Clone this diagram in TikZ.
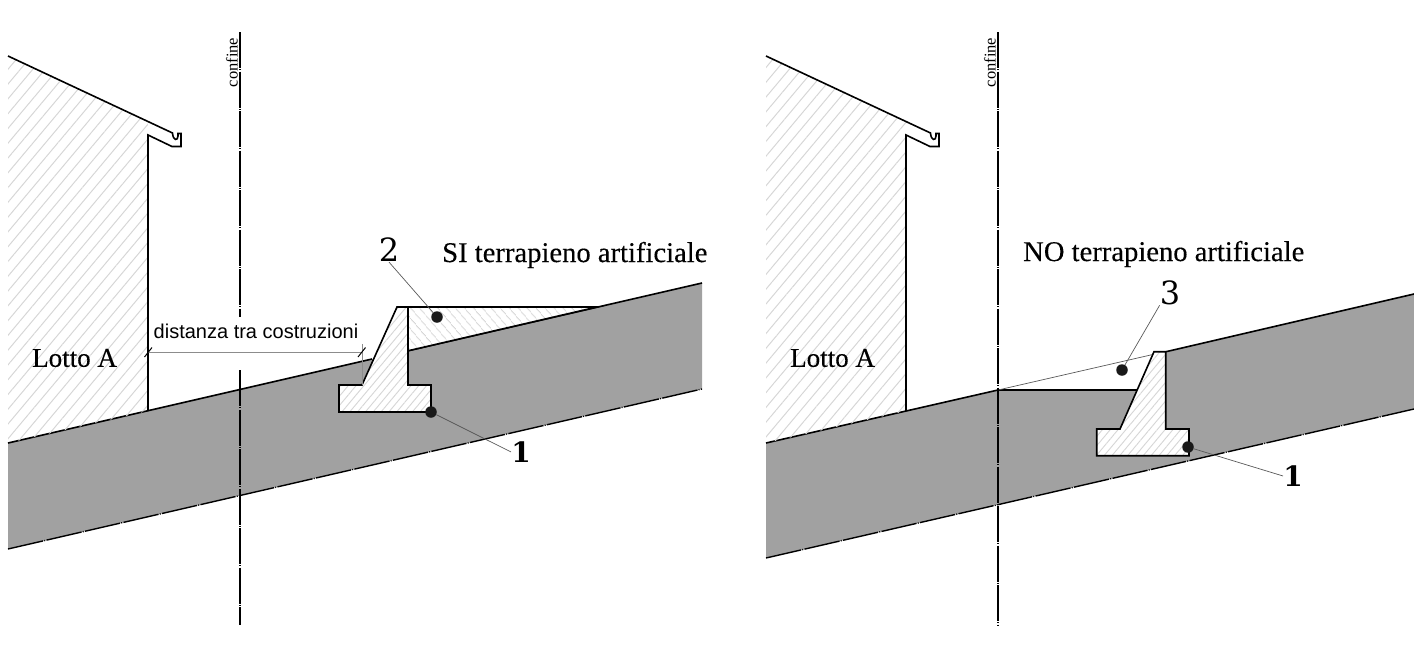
\documentclass[tikz,border=0pt]{standalone}
\usepackage{fontspec}
\setmainfont{Liberation Serif}
\setsansfont{Liberation Sans}
\newfontfamily\numfont{DejaVu Serif}
\newfontfamily\capfont[FakeBold=0.25]{Liberation Serif}
\usetikzlibrary{positioning,patterns.meta}
\definecolor{terreno}{gray}{0.63}
\definecolor{retino}{gray}{0.84}
\tikzset{%
  dotmark/.style={circle,fill=black!90,inner sep=0pt,minimum size=11.5pt},
  leader/.style={draw=black!65,line width=0.7pt},
  outline/.style={line width=1.6pt,line join=miter},
  axis/.style={line width=1.25pt,dash pattern=on 36pt off 1.2pt on 1pt off 1.3pt},
  hatchwide/.style={pattern={Lines[angle=50,distance=9.5pt,line width=1pt]},pattern color=retino},
  hatchfine/.style={preaction={fill=white},pattern={Lines[angle=50,distance=6pt,line width=0.9pt]},pattern color=retino},
  hatchback/.style={preaction={fill=white},pattern={Lines[angle=-50,distance=6.5pt,line width=0.9pt]},pattern color=retino},
  caption/.style={font=\capfont\fontsize{28.6}{28.6}\selectfont,inner sep=0pt},
  numlabel/.style={font=\fontsize{28}{28}\selectfont\numfont\bfseries,inner sep=0pt},
  numwide/.style={font=\fontsize{32}{32}\selectfont\numfont,inner sep=0pt},
}

\begin{document}
\begin{tikzpicture}[x=1pt,y=-1pt]
        \useasboundingbox (0,0) rectangle (1414,670);

        % ground, left
        \fill[terreno] (8,443) -- (702,283) -- (702,389) -- (8,549) -- cycle;
        \draw[outline] (8,443) -- (372,359);
        \draw[outline] (408,350.8) -- (702,283);
        \draw[axis,line width=1.4pt] (8,549) -- (702,389);

        % ground, right
        \fill[terreno] (766,443) -- (998,390) -- (1137,390) -- (1154,351.7) -- (1166,351.7) -- (1414,294) -- (1414,409) -- (766,558) -- cycle;
        \draw[outline] (766,443) -- (998,390) -- (1137,390);
        \draw[outline] (1166,351.7) -- (1414,294);
        \draw[axis,line width=1.4pt] (766,558) -- (1414,409);
        \draw[black!65,line width=0.7pt] (998,390) -- (1155,354);

        % house and boundary, both sides
        \foreach \dx/\side in {0/a,758/b}{
          \begin{scope}[xshift=\dx pt]
            \path[hatchwide] (8,56) -- (148,122) -- (148,411) -- (8,443) -- cycle;
            \fill[white] (148,135) -- (148,120) -- (172,120) -- (172,146) -- cycle;
            \draw[outline] (8,56) -- (172.5,133) .. controls (173,141) and (178,141) .. (178,136) -- (178,133.5) -- (181,133.5) -- (181,146.5) -- (172,146.5) -- (148,135) -- (148,411);
            \node[font=\capfont\fontsize{27}{27}\selectfont,inner sep=0pt,anchor=west] (lotto\side) at (32,358) {Lotto A};
            \node[rotate=90,font=\fontsize{16.5}{16.5}\selectfont,inner sep=0pt] (confine\side) at (232,62.5) {confine};
          \end{scope}
        }
        \draw[axis] (240,32) -- (240,317);
        \draw[axis] (240,370) -- (240,625);
        \draw[axis] (998,32) -- (998,625);

        % retaining walls
        \draw[outline,hatchfine] (397,307) -- (408,307) -- (408,385) -- (431,385) -- (431,412) -- (339,412) -- (339,385) -- (362,385) -- cycle;
        \draw[outline,hatchback] (408,307) -- (597,307) -- (408,350.8) -- cycle;
        \draw[outline,hatchfine] (1154,351.7) -- (1165.7,351.7) -- (1165.7,429) -- (1189,429) -- (1189,455.7) -- (1096.7,455.7) -- (1096.7,429) -- (1120,429) -- cycle;

        % distance
        \coordinate (da) at (148,352);
        \coordinate (db) at (362,352);
        \coordinate (dc) at (362,344);
        \coordinate (dd) at (362,385);
        \draw[black!45,line width=0.7pt] (da) -- (db);
        \draw[black!45,line width=0.7pt] (dc) -- (dd);
        \draw[line width=1pt] (144.5,357) -- (152,347.5);
        \draw[line width=1pt] (358,357) -- (365.5,347.5);
        \node[font=\sffamily\fontsize{20}{20}\selectfont,inner sep=0pt] (dist) at (256,331) {distanza tra costruzioni};

        % titles
        \node[caption,anchor=west] (si) at (442,255) {SI terrapieno artificiale};
        \node[caption,anchor=west] (no) at (1023,254) {NO terrapieno artificiale};

        % markers
        \node[dotmark] (d2) at (437,317) {};
        \node[dotmark] (d1) at (431,412) {};
        \node[dotmark] (d3) at (1122,370) {};
        \node[dotmark] (d4) at (1188,447) {};
        \node[numwide] (n2) at (389,250) {2};
        \node[numlabel] (n1) at (521,452) {1};
        \node[numwide] (n3) at (1170,293) {3};
        \node[numlabel] (n4) at (1293,476) {1};
        \draw[leader] (n2.south) -- (d2);
        \draw[leader] (n1.west) -- (d1);
        \draw[leader] (n3.south west) -- (d3);
        \draw[leader] (n4.west) -- (d4);
    \end{tikzpicture}
\end{document}
